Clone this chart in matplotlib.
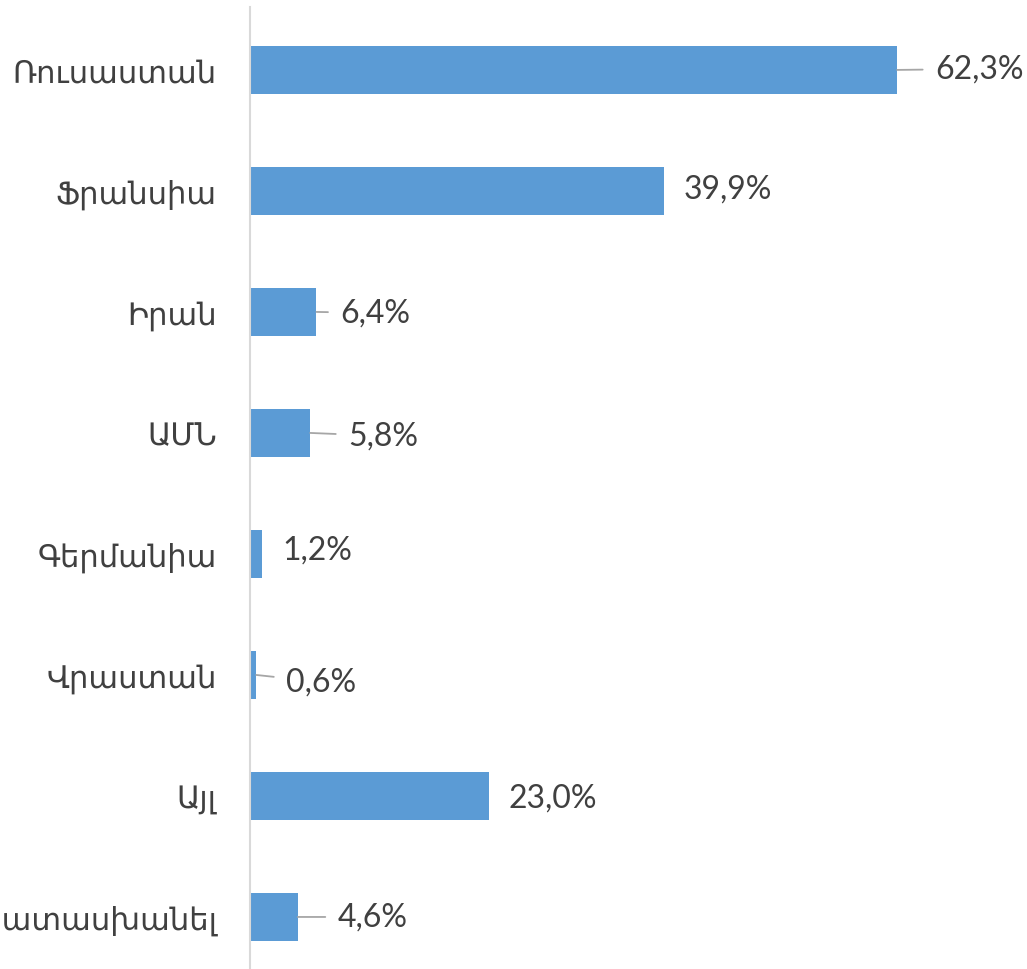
import matplotlib
matplotlib.use('Agg')
import matplotlib.pyplot as plt

# data
categories = ['Ռուսաստան', 'Ֆրանսիա', 'Իրան', 'ԱՄՆ', 'Գերմանիա',
              'Վրաստան', 'Այլ', 'Դժվարանում եմ պատասխանել']
values = [62.3, 39.9, 6.4, 5.8, 1.2, 0.6, 23.0, 4.6]
value_labels = ['62,3%', '39,9%', '6,4%', '5,8%', '1,2%', '0,6%', '23,0%', '4,6%']

# label offsets in pixels (dx, dy) and whether a leader line is drawn
offsets = [(38, 1), (19, 2), (24, -1), (38, -3), (20, 4), (30, -7), (20, -2), (40, 0)]
leaders = [True, False, True, True, False, True, False, True]

plt.rcParams['font.family'] = ['Lato', 'DejaVu Sans']

fig = plt.figure(figsize=(10.27, 9.70), dpi=100)
ax = fig.add_axes([250 / 1027, 0, 777 / 1027, 1 - 8 / 970])

pos = list(range(len(categories)))
ax.barh(pos, values, height=0.4, color='#5b9bd5')

for i, (v, lab) in enumerate(zip(values, value_labels)):
    dx, dy = offsets[i]
    # shrinkA is on the text side, shrinkB on the bar end
    arrow = dict(arrowstyle='-', color='#a6a6a6', lw=1.3, shrinkA=7, shrinkB=0) if leaders[i] else None
    ax.annotate(lab, xy=(v, i), xytext=(dx, dy), textcoords='offset pixels',
                ha='left', va='center', fontsize=23, color='#404040',
                arrowprops=arrow)

ax.set_xlim(0, 74.8)
ax.set_ylim(7.43, -0.52)
ax.set_yticks(pos)
ax.set_yticklabels(categories, fontsize=22, color='#404040')
ax.tick_params(axis='y', length=0, pad=24)
ax.set_xticks([])
for s in ['top', 'right', 'bottom']:
    ax.spines[s].set_visible(False)
ax.spines['left'].set_color('#d9d9d9')
ax.spines['left'].set_linewidth(1.5)

fig.savefig('out.png', dpi=100)
